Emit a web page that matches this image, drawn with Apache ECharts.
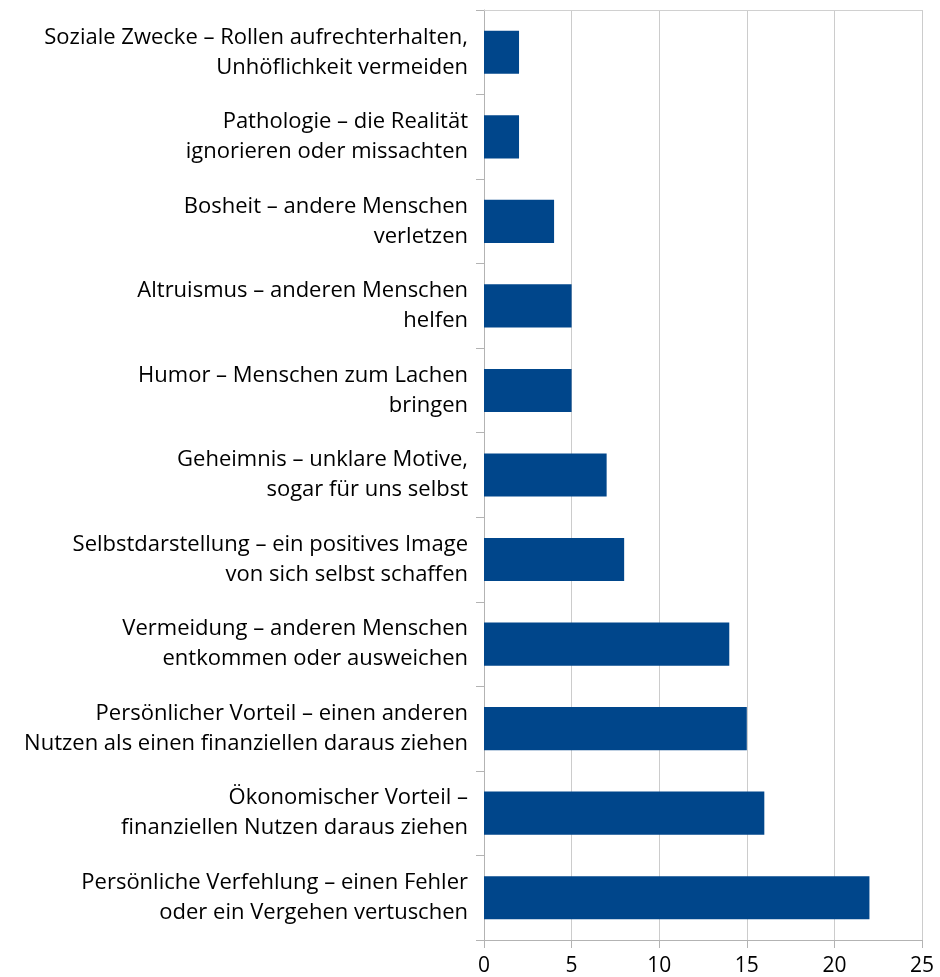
<!DOCTYPE html>
<html><head><meta charset="utf-8">
<script src="https://cdn.jsdelivr.net/npm/echarts@6/dist/echarts.min.js"></script>
<style>html,body{margin:0;padding:0;background:#fff}#c{width:940px;height:977px}</style>
</head><body><div id="c"></div>
<script>
const categories = [
  "Soziale Zwecke – Rollen aufrechterhalten,\nUnhöflichkeit vermeiden",
  "Pathologie – die Realität\nignorieren oder missachten",
  "Bosheit – andere Menschen\nverletzen",
  "Altruismus – anderen Menschen\nhelfen",
  "Humor – Menschen zum Lachen\nbringen",
  "Geheimnis – unklare Motive,\nsogar für uns selbst",
  "Selbstdarstellung – ein positives Image\nvon sich selbst schaffen",
  "Vermeidung – anderen Menschen\nentkommen oder ausweichen",
  "Persönlicher Vorteil – einen anderen\nNutzen als einen finanziellen daraus ziehen",
  "Ökonomischer Vorteil –\nfinanziellen Nutzen daraus ziehen",
  "Persönliche Verfehlung – einen Fehler\noder ein Vergehen vertuschen"
];
const values = [2, 2, 4, 5, 5, 7, 8, 14, 15, 16, 22];
const xTicks = [0, 5, 10, 15, 20, 25];

const chart = echarts.init(document.getElementById('c'), null, {renderer: 'canvas'});
chart.setOption({
  animation: false,
  backgroundColor: '#ffffff',
  grid: {left: 484, right: 18, top: 10, bottom: 37, containLabel: false},
  xAxis: [{
    type: 'value', min: xTicks[0], max: xTicks[xTicks.length - 1], interval: 5,
    axisLine: {show: true, lineStyle: {color: '#b3b3b3', width: 1}},
    axisTick: {show: true, length: 8, lineStyle: {color: '#b3b3b3'}},
    splitLine: {show: true, lineStyle: {color: '#cccccc', width: 1}},
    axisLabel: {color: '#000', fontFamily: 'Open Sans', fontSize: 21, margin: 16}
  }, {
    type: 'value', position: 'top', min: 0, max: 25, interval: 5,
    axisLine: {show: true, lineStyle: {color: '#d0d0d0', width: 1}},
    axisTick: {show: false}, axisLabel: {show: false}, splitLine: {show: false}
  }],
  yAxis: {
    type: 'category', data: categories, inverse: true,
    axisLine: {show: true, lineStyle: {color: '#b3b3b3', width: 1}},
    axisTick: {show: true, length: 8, lineStyle: {color: '#b3b3b3'}},
    axisLabel: {color: '#000', fontFamily: 'Open Sans', fontSize: 22, lineHeight: 30, margin: 16, align: 'right', padding: [5, 0, 0, 0]},
    splitLine: {show: false}
  },
  series: [{
    type: 'bar', data: values, xAxisIndex: 0,
    itemStyle: {color: '#00468b'},
    barCategoryGap: '49%'
  }]
});
</script></body></html>
